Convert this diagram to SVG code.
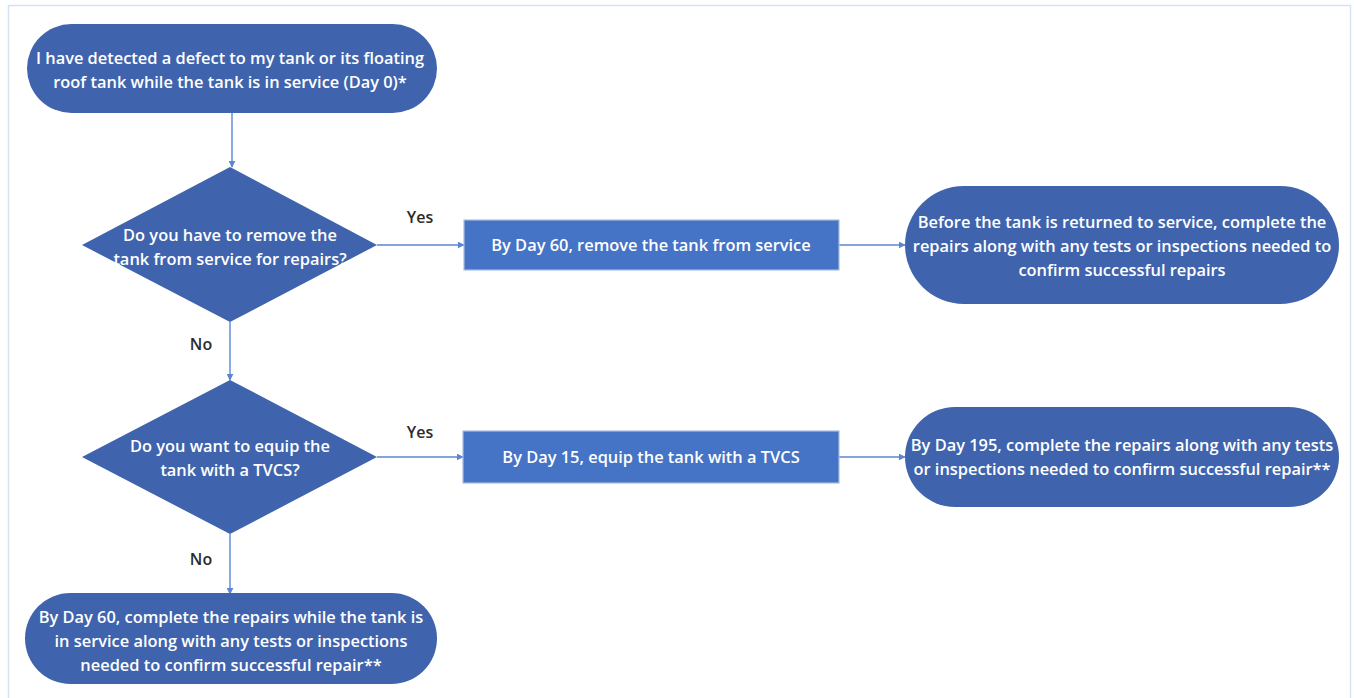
<svg xmlns="http://www.w3.org/2000/svg" width="1354" height="698" viewBox="0 0 1354 698">
<style>
.pill{fill:#3F64AD;}
.dia{fill:#3F64AD;}
.box{fill:#4573C5;stroke:#A9BDE0;stroke-width:1.2;}
.t{font-family:"Open Sans","Liberation Sans",sans-serif;font-weight:600;font-size:16.4px;fill:#FFFFFF;text-anchor:middle;}
.lbl{font-family:"Open Sans","Liberation Sans",sans-serif;font-weight:600;font-size:16px;fill:#2B2B2B;text-anchor:middle;}
.ln{stroke:#5A86D2;stroke-width:1.4;fill:none;marker-end:url(#ah);}
</style>
<defs>
<marker id="ah" viewBox="0 0 10 10" refX="9" refY="5" markerWidth="7" markerHeight="7" markerUnits="userSpaceOnUse" orient="auto">
<path d="M0,0 L10,5 L0,10 Z" fill="#5A86D2"/>
</marker>
</defs>
<rect x="0" y="0" width="1354" height="698" fill="#FFFFFF"/>
<rect x="8.5" y="5.5" width="1342" height="710" fill="none" stroke="#D5E2F4" stroke-width="1.5"/>
<g id="connectors">
<line class="ln" x1="232" y1="113" x2="232" y2="167"/>
<line class="ln" x1="377" y1="245" x2="464" y2="245"/>
<line class="ln" x1="839" y1="245" x2="905" y2="245"/>
<line class="ln" x1="230" y1="322" x2="230" y2="380"/>
<line class="ln" x1="377" y1="457" x2="463" y2="457"/>
<line class="ln" x1="839" y1="457" x2="905" y2="457"/>
<line class="ln" x1="230" y1="534" x2="230" y2="594"/>
<text class="lbl" x="420" y="223">Yes</text>
<text class="lbl" x="420" y="438">Yes</text>
<text class="lbl" x="201" y="350">No</text>
<text class="lbl" x="201" y="565">No</text>
</g>
<g id="start">
<rect class="pill" x="27" y="24" width="410" height="89" rx="44.5"/>
<text class="t" x="230" y="64">I have detected a defect to my tank or its floating</text>
<text class="t" x="230" y="88">roof tank while the tank is in service (Day 0)*</text>
</g>
<g id="q1">
<polygon class="dia" points="230,167 377,245 230,322 82,245"/>
<text class="t" x="230" y="241">Do you have to remove the</text>
<text class="t" x="230" y="265">tank from service for repairs?</text>
</g>
<g id="remove">
<rect class="box" x="464" y="220" width="375" height="50"/>
<text class="t" x="651" y="251">By Day 60, remove the tank from service</text>
</g>
<g id="returnService">
<rect class="pill" x="905" y="186" width="434" height="118" rx="59"/>
<text class="t" x="1122" y="228">Before the tank is returned to service, complete the</text>
<text class="t" x="1122" y="252">repairs along with any tests or inspections needed to</text>
<text class="t" x="1122" y="276">confirm successful repairs</text>
</g>
<g id="q2">
<polygon class="dia" points="230,380 377,457 230,534 82,457"/>
<text class="t" x="230" y="452">Do you want to equip the</text>
<text class="t" x="230" y="476">tank with a TVCS?</text>
</g>
<g id="equip">
<rect class="box" x="463" y="431" width="376" height="52"/>
<text class="t" x="651" y="463">By Day 15, equip the tank with a TVCS</text>
</g>
<g id="day195">
<rect class="pill" x="905" y="407" width="434" height="100" rx="50"/>
<text class="t" x="1122" y="451">By Day 195, complete the repairs along with any tests</text>
<text class="t" x="1122" y="475">or inspections needed to confirm successful repair**</text>
</g>
<g id="day60">
<rect class="pill" x="25" y="593" width="412" height="91" rx="45.5"/>
<text class="t" x="231" y="623">By Day 60, complete the repairs while the tank is</text>
<text class="t" x="231" y="647">in service along with any tests or inspections</text>
<text class="t" x="231" y="671">needed to confirm successful repair**</text>
</g>
</svg>
